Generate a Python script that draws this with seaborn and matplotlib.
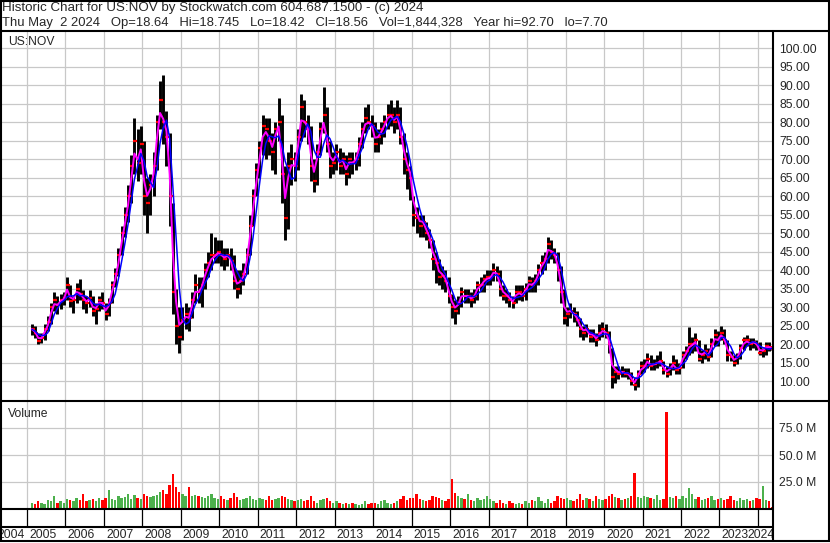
import numpy as np
import pandas as pd
import matplotlib.pyplot as plt
from matplotlib.lines import Line2D
import seaborn as sns

# ----------------------------------------------------------
# Data (monthly, Feb 2005 - May 2024)
# ----------------------------------------------------------

close = [
    24, 23, 20.8, 21.5, 24, 26, 30, 32, 30.5, 32, 32.5,              # 2005 (Feb-Dec)
    36, 31.5, 32, 35, 33.5, 32, 31, 32.5, 29, 29.5, 32, 31,          # 2006
    28, 31, 36, 39, 44, 50, 55, 60, 68, 75, 69, 74,                  # 2007
    60, 58, 63, 68, 80, 86, 80, 76, 60, 34, 25, 22,                  # 2008
    26.5, 28, 27, 32, 36, 34, 36, 40, 42, 44, 44, 45,                # 2009
    44, 43, 44, 42.5, 37, 35, 37, 39, 44, 52, 60, 67,                # 2010
    73, 79, 78, 75, 72, 78, 80, 66, 54, 68, 70, 68,                  # 2011
    76, 84, 80, 78, 68, 64, 72, 78, 82, 74, 68, 69,                  # 2012
    72, 68, 70, 66, 70, 69, 70, 74, 78, 81, 80, 79,                  # 2013
    74, 76, 78, 80, 82, 82, 80, 82, 76, 70, 67, 65,                  # 2014
    55, 54, 52, 53, 50, 48, 43, 42, 38, 38.5, 37, 33,                # 2015
    30, 29, 31, 34, 33, 33, 32, 33, 36, 36, 37.5, 38,                # 2016
    38, 40, 39, 35, 33, 33, 32, 31, 34, 34, 33, 35,                  # 2017
    37, 36, 37, 40, 42, 43, 47, 45, 44, 40, 34, 27,                  # 2018
    28, 29, 28, 26.5, 24, 23, 24, 22, 22.5, 21, 23, 24,              # 2019
    23, 20, 11, 12.5, 12, 12.5, 12, 12, 10, 9, 12, 14,               # 2020
    14, 16, 14, 14.5, 15, 15.5, 13, 12, 13.5, 15, 13, 13.5,          # 2021
    17, 18, 20, 20, 21, 16, 17, 18, 16.5, 20, 22.5, 21,              # 2022
    23, 21, 17, 16.5, 15, 16.5, 19, 21, 21, 20, 20.5, 20,            # 2023
    17.5, 18.2, 19.5, 19.2, 18.56,                                   # 2024 (Jan-May)
]

high = [
    25.5, 25, 23, 23, 25.5, 27.5, 31, 34, 33, 33.5, 34,
    38, 36, 33, 36.5, 37.5, 34.5, 33, 34.5, 33, 31, 33, 34,
    31, 32.5, 37, 40.5, 46, 52, 57, 63, 71, 81, 78, 79,
    75, 65, 66, 72, 82, 91, 92.7, 83, 77, 58, 35, 30,
    30, 31, 30, 34, 39, 38, 38, 42, 45, 50, 49, 48,
    48, 46, 46, 46, 44, 40, 40, 42, 46, 55, 62, 69,
    75, 82, 81, 81, 77, 80, 86.5, 82, 68, 72, 74, 72,
    78, 87.5, 86, 82, 79, 70, 74, 80, 89.5, 84, 75, 72,
    74, 73, 72, 71, 72, 72, 72, 76, 80, 84, 85, 82,
    80, 78, 80, 82, 85, 86, 84, 86, 84, 77, 72, 68,
    60, 57, 55, 55, 53, 51, 48, 45, 43, 41, 40, 38,
    33.5, 32, 33, 35.5, 35, 35, 34, 35, 37, 38, 39, 40,
    40, 42, 41, 40, 36, 35, 34, 33, 36, 36, 36, 36.5,
    38.5, 38, 39, 41.5, 44, 45, 49, 48, 46, 45, 41, 35,
    30, 31, 30, 29, 27, 25, 25.5, 24, 24, 23, 25.5, 26,
    25.5, 23.5, 19, 14, 14, 14, 13.5, 13.5, 12.5, 11, 13, 15.5,
    16, 17.5, 17, 16, 17, 18, 15.5, 14, 15, 17, 16, 15,
    18, 19.5, 24.7, 22, 23, 21, 18.5, 20, 19, 21.5, 24, 23.5,
    24.8, 24, 21, 18, 17, 17.5, 20, 22, 22.5, 21.5, 21.5, 21,
    20.5, 18.8, 20.5, 20.5, 18.75,
]

low = [
    22.5, 21.5, 20, 20.2, 21, 23.5, 25.5, 29, 28, 29.5, 30.5,
    32, 30, 28.5, 31, 32, 29.5, 28.5, 30, 27.5, 25.5, 29, 29.5,
    26.5, 27.5, 31, 35.5, 38.5, 44, 49, 53, 58, 66, 64, 66,
    55, 50, 55, 60, 67, 78, 74, 68, 52, 28, 20, 17.7,
    21, 24, 23.5, 27, 31, 31, 30, 35, 38, 40, 42, 42,
    41, 40, 41, 40, 35, 32.5, 33.5, 36, 39, 44, 52, 60,
    65, 71, 70, 71, 67, 66, 75, 58, 48, 51, 63, 64,
    67, 75, 76, 74, 64, 61, 63, 71, 77, 72, 65, 66,
    67, 66, 66, 63, 65, 66, 67, 68, 73, 77, 78, 76,
    72, 72, 74, 76, 78, 79, 77, 78, 74, 66, 62, 59,
    52, 50, 49, 49, 48, 46, 40, 36.5, 36, 35, 34, 31,
    27, 25.5, 28, 30, 31, 31, 30, 31, 32, 34, 34, 36,
    36, 37, 37, 33, 32, 31, 30, 29.8, 31, 32, 31.5, 32,
    34, 34, 34, 36, 39, 40, 42, 43, 42, 37, 31, 25.5,
    25, 27, 26, 25, 22, 21, 22, 20.5, 20.5, 19.5, 21, 22,
    21.5, 17.5, 8.2, 9.5, 10.5, 11, 11, 10.5, 9, 7.7, 8.5, 12,
    12.5, 13.5, 13, 13, 13.5, 14, 12, 11, 11.5, 13, 12, 12,
    13.5, 16, 17, 17.5, 18, 15.5, 15, 16, 15.5, 16.5, 19.5, 19.5,
    21, 20, 15.5, 15.5, 14, 14.5, 16, 18.5, 19.5, 18.5, 19, 18.5,
    17, 16.5, 17, 18, 18.42,
]

# volume in millions of shares
volume = [
    6, 5, 7, 6, 5, 8, 7, 12, 6, 7, 6,
    9, 8, 7, 10, 8, 14, 7, 8, 9, 7, 10, 8,
    10, 18, 9, 8, 12, 10, 11, 14, 9, 13, 10, 9,
    14, 12, 11, 12, 13, 16, 18, 14, 22, 32, 20, 16,
    14, 12, 20, 12, 13, 12, 11, 10, 12, 14, 10, 9,
    12, 9, 8, 10, 15, 11, 8, 9, 10, 12, 9, 8,
    10, 9, 8, 12, 8, 9, 10, 12, 11, 9, 8, 7,
    8, 9, 7, 8, 12, 7, 6, 8, 9, 10, 7, 6,
    7, 6, 5, 6, 5, 6, 5, 4, 5, 7, 5, 6,
    6, 5, 7, 8, 6, 5, 6, 7, 9, 12, 8, 10,
    10, 14, 9, 8, 7, 8, 12, 11, 10, 8, 7, 9,
    28, 15, 12, 10, 9, 14, 8, 7, 10, 8, 9, 12,
    9, 7, 6, 8, 6, 5, 7, 6, 5, 6, 5, 7,
    6, 8, 7, 11, 7, 6, 9, 6, 7, 12, 10, 9,
    10, 8, 7, 9, 14, 8, 10, 9, 7, 12, 9, 8,
    9, 12, 14, 11, 10, 8, 9, 10, 12, 33, 11, 10,
    12, 11, 10, 9, 13, 8, 9, 90, 11, 10, 12, 9,
    12, 10, 19, 14, 9, 11, 8, 9, 10, 12, 8, 9,
    10, 8, 9, 12, 8, 7, 10, 8, 9, 7, 8, 10,
    9, 21, 8, 7, 2,
]

years = list(range(2004, 2025))
price_ticks = list(range(10, 101, 5))
vol_ticks = [25, 50, 75]

title1 = "Historic Chart for US:NOV by Stockwatch.com 604.687.1500 - (c) 2024"
title2 = ("Thu May  2 2024   Op=18.64   Hi=18.745   Lo=18.42   Cl=18.56   "
          "Vol=1,844,328   Year hi=92.70   lo=7.70")

# ----------------------------------------------------------
# Frame
# ----------------------------------------------------------

months = pd.date_range("2005-02-01", periods=len(close), freq="MS")
df = pd.DataFrame({"close": close, "high": high, "low": low, "volume": volume})
df["t"] = months.year + (months.month - 0.5) / 12
df["ma_fast"] = df["close"].ewm(span=2, adjust=False).mean()
df["ma_slow"] = df["close"].rolling(4, min_periods=1).mean()
df["up"] = df["close"].diff().fillna(0) >= 0

sns.set_style("white")
plt.rcParams["font.family"] = ["Liberation Sans", "DejaVu Sans"]

W, H = 830, 543
FS = 8.7
GRID = "#c8c8c8"

fig = plt.figure(figsize=(W / 100, H / 100), dpi=100, facecolor="white")


def rect(x0, y0, x1, y1):
    return [x0 / W, 1 - y1 / H, (x1 - x0) / W, (y1 - y0) / H]


def line(x0, y0, x1, y1, lw=1.5):
    fig.add_artist(Line2D([x0 / W, x1 / W], [1 - y0 / H, 1 - y1 / H],
                          transform=fig.transFigure, color="black", lw=lw))


px_per_year = 38.47
x_left = 2005 - 26 / px_per_year
x_right = 2005 + 746 / px_per_year

ax_p = fig.add_axes(rect(1, 31, 773, 401))
ax_v = fig.add_axes(rect(1, 401, 773, 509))
ax_s = fig.add_axes(rect(1, 509, 773, 527))
ax_y = fig.add_axes(rect(1, 527, 773, 541))

for ax in (ax_p, ax_v, ax_s, ax_y):
    ax.set_xlim(x_left, x_right)
    for s in ax.spines.values():
        s.set_visible(False)
    ax.set_facecolor("white")

# ----------------------------------------------------------
# Price panel
# ----------------------------------------------------------

ax_p.set_ylim(4.6, 104.6)
ax_p.set_axisbelow(True)
ax_p.set_xticks(years[1:])
ax_p.set_yticks(price_ticks)
ax_p.grid(True, color=GRID, lw=0.9)
ax_p.yaxis.tick_right()
ax_p.set_yticklabels([f"{v:.2f}" for v in price_ticks])
ax_p.tick_params(axis="y", length=0, pad=4.5, labelsize=FS)
ax_p.tick_params(axis="x", length=0, labelbottom=False)

ax_p.vlines(df["t"], df["low"], df["high"], color="black", lw=2.1, zorder=2)
ax_p.plot(df["t"] + 0.025, df["close"], ls="none", marker="_", color="red",
          ms=3, mew=1.6, zorder=3)
sns.lineplot(data=df, x="t", y="ma_fast", color="#ff00ff", lw=1.4, ax=ax_p, zorder=4)
sns.lineplot(data=df, x="t", y="ma_slow", color="#0000ff", lw=1.1, ax=ax_p, zorder=5)
ax_p.set_xlabel("")
ax_p.set_ylabel("")
ax_p.text(x_left + 7 / px_per_year, 100 + 16 / 3.7 - 10 / 3.7, "US:NOV",
          fontsize=FS, va="center", ha="left")

# ----------------------------------------------------------
# Volume panel
# ----------------------------------------------------------

ax_v.set_ylim(0, 100)
ax_v.set_axisbelow(True)
ax_v.set_xticks(years[1:])
ax_v.set_yticks(vol_ticks)
ax_v.grid(True, color=GRID, lw=0.9)
ax_v.yaxis.tick_right()
ax_v.set_yticklabels([f"{v:.1f} M" for v in vol_ticks])
ax_v.tick_params(axis="y", length=0, pad=4.5, labelsize=FS)
ax_v.tick_params(axis="x", length=0, labelbottom=False)
ax_v.bar(df["t"], df["volume"], width=0.062, lw=0,
         color=np.where(df["up"], "#4cb04c", "#ff0000"))
ax_v.text(x_left + 7 / px_per_year, 88, "Volume", fontsize=FS, va="center")

# ----------------------------------------------------------
# Year strip + labels
# ----------------------------------------------------------

ax_s.set_ylim(0, 1)
ax_s.set_xticks([])
ax_s.set_yticks([])
ax_s.vlines(years[1:], 0, 1, color="black", lw=0.9)

ax_y.set_ylim(0, 1)
ax_y.set_xticks([])
ax_y.set_yticks([])
for y in years:
    if y == years[0]:
        ax_y.text(2005 - 2 / px_per_year, 0.45, str(y), ha="right", va="center", fontsize=FS)
    elif y == years[-1]:
        ax_y.text(x_right + 2 / px_per_year, 0.45, str(y), ha="right", va="center",
                  fontsize=FS, clip_on=False)
    else:
        ax_y.text(y + 2 / px_per_year, 0.45, str(y), ha="left", va="center", fontsize=FS)

# ----------------------------------------------------------
# Header + borders
# ----------------------------------------------------------

fig.text(2 / W, 1 - 8.5 / H, title1, fontsize=9.6, va="center", ha="left")
fig.text(2 / W, 1 - 23 / H, title2, fontsize=9.4, va="center", ha="left")

line(0, 0.7, W, 0.7)
line(0, 30.5, W, 30.5)
line(0, 401, W, 401)
line(0, 509, 773, 509)
line(0, 527, 773, 527)
line(0, 541, W, 541)
line(0.7, 0, 0.7, 541)
line(773, 30.5, 773, 541)
line(829, 0, 829, 541)

plt.savefig("out.png", dpi=100, facecolor="white")
plt.close()
